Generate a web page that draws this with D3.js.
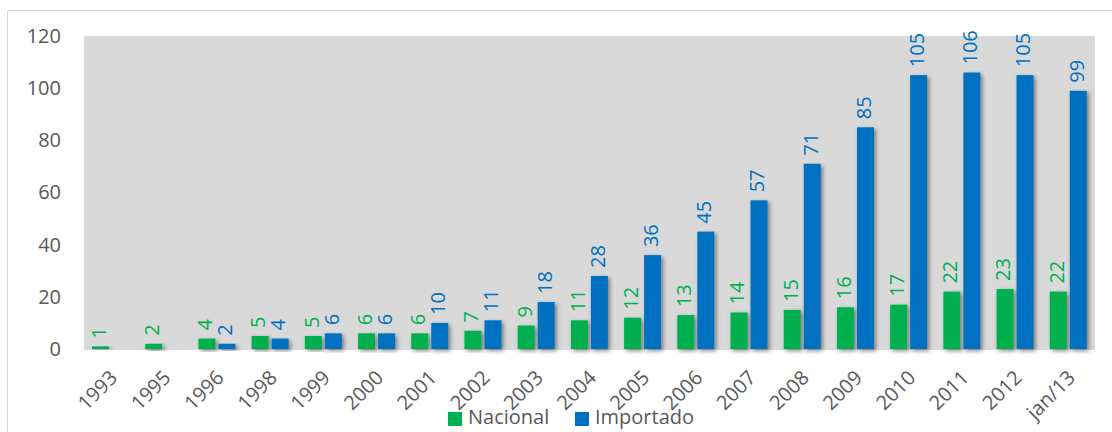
<!DOCTYPE html>
<html>
<head>
<meta charset="utf-8">
<script src="https://cdn.jsdelivr.net/npm/d3@7"></script>
<style>
  html, body { margin: 0; padding: 0; background: #fff; }
  svg { display: block; font-family: "Open Sans", Lato, sans-serif; }
</style>
</head>
<body>
<svg id="chart" width="1112" height="432"></svg>
<script>
// Periods on the horizontal axis
const categories = ["1993","1995","1996","1998","1999","2000","2001","2002","2003","2004","2005","2006","2007","2008","2009","2010","2011","2012","jan/13"];
// Series values (null = no bar)
const nacional  = [1,2,4,5,5,6,6,7,9,11,12,13,14,15,16,17,22,23,22];
const importado = [null,null,2,4,6,6,10,11,18,28,36,45,57,71,85,105,106,105,99];
const seriesNames = ["Nacional","Importado"];
const seriesColors = ["#00B050","#0070C0"];
const yTicks = [0,20,40,60,80,100,120];

const FONT = "'Open Sans', Lato, sans-serif";
const svg = d3.select("#chart");
const plot = { left: 84, right: 1095, top: 36, bottom: 349 };

// outer chart frame
svg.append("rect")
  .attr("x", 7.5).attr("y", 10.5)
  .attr("width", 1112).attr("height", 440)
  .attr("fill", "#fff").attr("stroke", "#D9D9D9").attr("stroke-width", 1);

// soft shadow under bars
const defs = svg.append("defs");
const f = defs.append("filter").attr("id", "shadow")
  .attr("x", "-30%").attr("y", "-10%").attr("width", "180%").attr("height", "130%");
f.append("feDropShadow").attr("dx", 2).attr("dy", 2)
  .attr("stdDeviation", 2).attr("flood-color", "#000").attr("flood-opacity", 0.45);

// plot background
svg.append("rect")
  .attr("x", plot.left).attr("y", plot.top)
  .attr("width", plot.right - plot.left).attr("height", plot.bottom - plot.top + 1)
  .attr("fill", "#D9D9D9");

const x0 = d3.scaleBand().domain(categories).range([plot.left, plot.right]).padding(0);
const x1 = d3.scaleBand().domain(seriesNames).range([8, 45]).paddingInner(0.15);
const y = d3.scaleLinear().domain([0, 120]).range([plot.bottom, plot.top]);

// y axis labels
const yAxis = svg.append("g")
  .attr("transform", `translate(${plot.left - 23},0)`)
  .call(d3.axisLeft(y).tickValues(yTicks).tickSize(0).tickPadding(0));
yAxis.select(".domain").remove();
yAxis.selectAll("text")
  .attr("fill", "#595959").attr("font-size", 20)
  .attr("font-family", FONT);

// x axis labels
const xAxis = svg.append("g")
  .attr("transform", `translate(0,${plot.bottom})`)
  .call(d3.axisBottom(x0).tickSize(0).tickPadding(0));
xAxis.select(".domain").remove();
xAxis.selectAll("text")
  .attr("fill", "#595959").attr("font-size", 20)
  .attr("font-family", FONT)
  .attr("text-anchor", "end")
  .attr("dy", null)
  .attr("transform", "translate(8,30) rotate(-45)");

// bars and value labels
const data = categories.map((c, i) => ({
  cat: c,
  vals: [
    { key: seriesNames[0], v: nacional[i], color: seriesColors[0] },
    { key: seriesNames[1], v: importado[i], color: seriesColors[1] }
  ].filter(d => d.v != null)
}));

const groups = svg.append("g").selectAll("g").data(data).join("g")
  .attr("transform", d => `translate(${x0(d.cat)},0)`);

groups.selectAll("rect").data(d => d.vals).join("rect")
  .attr("x", d => x1(d.key))
  .attr("y", d => y(d.v))
  .attr("width", x1.bandwidth())
  .attr("height", d => y(0) - y(d.v))
  .attr("fill", d => d.color)
  .attr("filter", "url(#shadow)");

groups.selectAll("text").data(d => d.vals).join("text")
  .attr("transform", d => `translate(${x1(d.key) + x1.bandwidth() / 2},${y(d.v) - 8}) rotate(-90)`)
  .attr("text-anchor", "start")
  .attr("dominant-baseline", "middle")
  .attr("font-size", 20)
  .attr("font-family", FONT)
  .attr("fill", d => d.color)
  .text(d => d.v);

// legend
const legend = svg.append("g");
const legendItems = [
  { name: seriesNames[0], color: seriesColors[0], x: 448 },
  { name: seriesNames[1], color: seriesColors[1], x: 575 }
];
legendItems.forEach(it => {
  legend.append("rect")
    .attr("x", it.x).attr("y", 412).attr("width", 14).attr("height", 14)
    .attr("fill", it.color);
  legend.append("text")
    .attr("x", it.x + 20).attr("y", 419)
    .attr("dominant-baseline", "middle")
    .attr("font-size", 20).attr("font-family", FONT).attr("fill", "#595959")
    .text(it.name);
});
</script>
</body>
</html>
